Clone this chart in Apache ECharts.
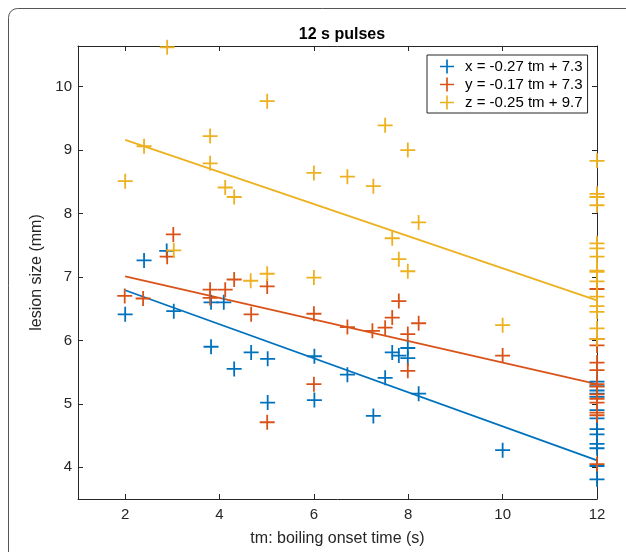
<!DOCTYPE html>
<html>
<head>
<meta charset="utf-8">
<script src="https://cdn.jsdelivr.net/npm/echarts@6/dist/echarts.min.js"></script>
<style>
html,body{margin:0;padding:0;background:#fff;}
#chart{width:626px;height:552px;}
</style>
</head>
<body>
<div id="chart"></div>
<script>
// ---- data ----
const titleText = '12 s pulses';
const xAxisName = 'tm: boiling onset time (s)';
const yAxisName = 'lesion size (mm)';
const xTicks = [2, 4, 6, 8, 10, 12];
const yTicks = [4, 5, 6, 7, 8, 9, 10];

const seriesNames = ['x = -0.27 tm + 7.3', 'y = -0.17 tm + 7.3', 'z = -0.25 tm + 9.7'];

const xTm = [2, 2.4, 2.88, 3.03, 3.82, 4.09, 3.82, 4.31, 4.67, 5.02, 5.02, 6.01, 6.01, 6.71, 7.26, 7.51, 7.66, 7.80, 7.99, 7.99, 8.22, 10,
  12, 12, 12, 12, 12, 12, 12, 12, 12, 12, 12, 12, 12];
const xSize = [6.41, 7.26, 7.41, 6.46, 6.60, 6.60, 5.90, 5.55, 5.81, 5.71, 5.02, 5.75, 5.06, 5.46, 4.81, 5.41, 5.81, 5.76, 5.88, 5.72, 5.16, 4.27,
  5.35, 5.28, 5.21, 5.16, 5.11, 4.90, 4.77, 4.60, 4.52, 4.37, 4.30, 4.02, 3.81];

const yTm = [1.99, 2.38, 2.89, 3.02, 3.80, 3.80, 4.12, 4.31, 4.67, 5.01, 5.01, 6.0, 6.0, 6.71, 7.24, 7.51, 7.66, 7.80, 7.99, 7.99, 8.22, 10,
  12, 12, 12, 12, 12, 12, 12, 12, 12, 12, 12, 12, 12];
const ySize = [6.70, 6.66, 7.32, 7.67, 6.80, 6.67, 6.80, 6.96, 6.41, 6.85, 4.71, 6.42, 5.31, 6.21, 6.15, 6.20, 6.36, 6.62, 6.10, 5.52, 6.27, 5.76,
  6.81, 6.02, 5.92, 5.65, 5.53, 5.31, 5.27, 5.15, 5.08, 5.02, 4.86, 4.82, 4.05];

const zTm = [2.0, 2.40, 2.89, 3.03, 3.80, 3.80, 4.12, 4.31, 4.66, 5.01, 5.01, 6.0, 6.0, 6.71, 7.26, 7.51, 7.66, 7.80, 7.99, 7.99, 8.22, 10,
  12, 12, 12, 12, 12, 12, 12, 12, 12, 12, 12, 12, 12, 12, 12];
const zSize = [8.51, 9.06, 10.62, 7.42, 9.22, 8.79, 8.41, 8.26, 6.94, 9.77, 7.05, 8.64, 6.99, 8.58, 8.43, 9.39, 7.61, 7.28, 9.00, 7.09, 7.86, 6.24,
  8.83, 8.31, 8.26, 8.13, 7.53, 7.45, 7.32, 7.10, 7.08, 6.93, 6.69, 6.54, 6.45, 6.19, 6.02, 5.66, 5.38];

// fitted lines: endpoints (tm, size)
const fitTm = [2, 12];
const xFit = [6.79, 4.11];
const yFit = [7.01, 5.31];
const zFit = [9.16, 6.63];

// ---- styling ----
const colors = ['#0072BD', '#D95319', '#EDB120'];
const axisColor = '#262626';
const font = '"Liberation Sans", Arial, Helvetica, sans-serif';
const plus = 'path://M-0.12,-1L0.12,-1L0.12,-0.12L1,-0.12L1,0.12L0.12,0.12L0.12,1L-0.12,1L-0.12,0.12L-1,0.12L-1,-0.12L-0.12,-0.12Z';

function pairs(a, b) { return a.map((v, i) => [v, b[i]]); }

const chart = echarts.init(document.getElementById('chart'), null, {renderer: 'canvas'});

function scatter(name, tm, size, color) {
  return {
    type: 'scatter', name: name, data: pairs(tm, size), symbol: plus, symbolSize: 15,
    itemStyle: {color: color, opacity: 1}, clip: false, silent: true, z: 3
  };
}
function fitLine(vals, color) {
  return {
    type: 'line', data: pairs(fitTm, vals), showSymbol: false, symbol: 'none',
    lineStyle: {color: color, width: 1.8}, silent: true, z: 2
  };
}

const xCommon = {
  type: 'value', min: 1, max: 12, splitLine: {show: false},
  axisLine: {show: true, onZero: false, lineStyle: {color: axisColor, width: 1}},
};
const yCommon = {
  type: 'value', min: 3.5, max: 10.64, splitLine: {show: false},
  axisLine: {show: true, onZero: false, lineStyle: {color: axisColor, width: 1}},
};

chart.setOption({
  animation: false,
  backgroundColor: '#fff',
  title: {
    text: titleText, left: 337, top: 22, textAlign: 'center',
    textStyle: {fontFamily: font, fontSize: 16, fontWeight: 'bold', color: '#000'}
  },
  grid: {left: 78, top: 46, right: 29, bottom: 49, containLabel: false},
  legend: {
    orient: 'vertical', left: 427, top: 55,
    data: seriesNames,
    icon: plus, itemWidth: 14, itemHeight: 14, itemGap: 3,
    padding: [4, 5, 3, 13],
    borderColor: axisColor, borderWidth: 1, backgroundColor: '#fff',
    textStyle: {fontFamily: font, fontSize: 15, color: '#000', padding: [0, 0, 0, 6]},
    selectedMode: false
  },
  xAxis: [
    Object.assign({}, xCommon, {
      position: 'bottom',
      name: xAxisName, nameLocation: 'middle', nameGap: 32,
      nameTextStyle: {fontFamily: font, fontSize: 16, color: axisColor},
      axisTick: {show: true, inside: true, length: 5, customValues: xTicks, lineStyle: {color: axisColor}},
      axisLabel: {show: true, customValues: xTicks, margin: 8, fontFamily: font, fontSize: 15, color: axisColor}
    }),
    Object.assign({}, xCommon, {
      position: 'top',
      axisTick: {show: true, inside: true, length: 5, customValues: xTicks, lineStyle: {color: axisColor}},
      axisLabel: {show: false}
    })
  ],
  yAxis: [
    Object.assign({}, yCommon, {
      position: 'left',
      name: yAxisName, nameLocation: 'middle', nameGap: 31, nameRotate: 90,
      nameTextStyle: {fontFamily: font, fontSize: 16, color: axisColor},
      axisTick: {show: true, inside: true, length: 5, customValues: yTicks, lineStyle: {color: axisColor}},
      axisLabel: {show: true, customValues: yTicks, margin: 6, fontFamily: font, fontSize: 15, color: axisColor}
    }),
    Object.assign({}, yCommon, {
      position: 'right',
      axisTick: {show: true, inside: true, length: 5, customValues: yTicks, lineStyle: {color: axisColor}},
      axisLabel: {show: false}
    })
  ],
  graphic: [{
    type: 'rect', silent: true, z: -10,
    shape: {x: 8.5, y: 8.5, width: 800, height: 800, r: 9},
    style: {fill: 'none', stroke: '#555', lineWidth: 1}
  }],
  series: [
    scatter(seriesNames[0], xTm, xSize, colors[0]),
    scatter(seriesNames[1], yTm, ySize, colors[1]),
    scatter(seriesNames[2], zTm, zSize, colors[2]),
    fitLine(xFit, colors[0]),
    fitLine(yFit, colors[1]),
    fitLine(zFit, colors[2])
  ]
});
</script>
</body>
</html>
